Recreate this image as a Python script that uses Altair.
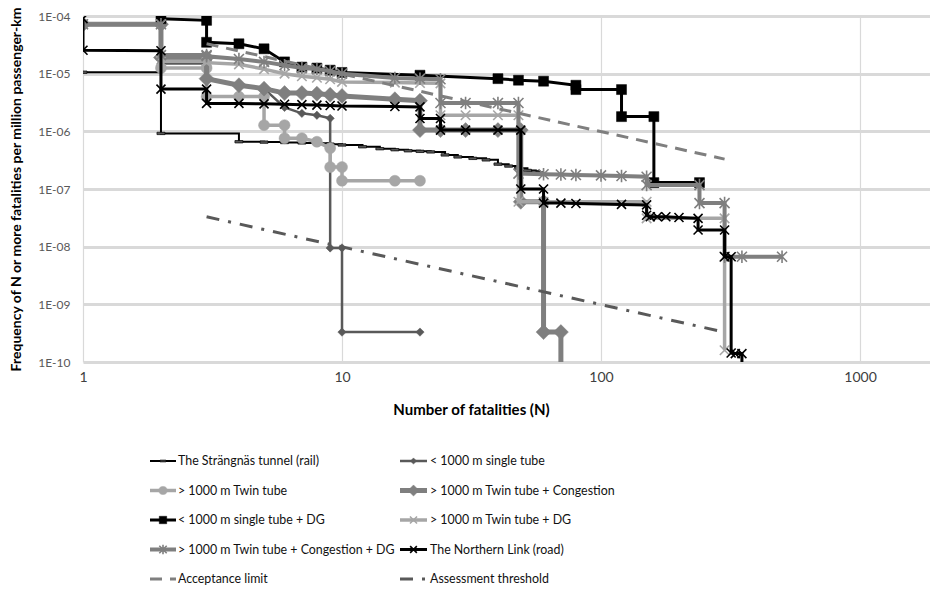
import altair as alt
import pandas as pd

# ------------------------------------------------------------------ data
series_names = [
    "The Strängnäs tunnel (rail)",
    "< 1000 m single tube",
    "> 1000 m Twin tube",
    "> 1000 m Twin tube + Congestion",
    "< 1000 m single tube + DG",
    "> 1000 m Twin tube + DG",
    "> 1000 m Twin tube + Congestion + DG",
    "The Northern Link (road)",
]
limit_names = ["Acceptance limit", "Assessment threshold"]

x_ticks = [1, 10, 100, 1000]
y_ticks = [1e-10, 1e-9, 1e-8, 1e-7, 1e-6, 1e-5, 1e-4]

strangnas_N = [1, 2, 4, 5, 6, 7, 8, 9, 10, 12, 14, 16, 18, 20, 22, 25, 28, 32, 36, 40, 44, 48, 52, 56, 58]
strangnas_F = [1.06e-5, 9.2e-7, 6.6e-7, 6.5e-7, 6.4e-7, 6.3e-7, 6.2e-7, 6.0e-7, 5.8e-7, 5.4e-7, 5.0e-7,
               4.8e-7, 4.6e-7, 4.5e-7, 4.4e-7, 3.9e-7, 3.6e-7, 3.4e-7, 3.2e-7, 2.7e-7, 2.5e-7, 2.3e-7,
               2.1e-7, 2.0e-7, 1.9e-7]

single_N = [1, 2, 2, 3, 3, 4, 5, 6, 7, 8, 9, 9, 10, 10, 20]
single_F = [7.2e-5, 7.2e-5, 1.5e-5, 1.5e-5, 8.2e-6, 6.3e-6, 5.5e-6, 2.6e-6, 2.05e-6, 1.9e-6, 1.68e-6,
            9.5e-9, 9.5e-9, 3.3e-10, 3.3e-10]

twin_N = [1, 2, 2, 3, 3, 4, 5, 5, 6, 6, 7, 8, 9, 9, 10, 10, 16, 20]
twin_F = [7.2e-5, 7.2e-5, 1.25e-5, 1.25e-5, 4.0e-6, 4.0e-6, 4.0e-6, 1.28e-6, 1.28e-6, 7.6e-7, 7.6e-7,
          6.6e-7, 5.1e-7, 2.4e-7, 2.4e-7, 1.39e-7, 1.39e-7, 1.39e-7]

twin_cong_N = [1, 2, 2, 3, 3, 4, 5, 6, 7, 8, 9, 10, 16, 20, 20, 24, 30, 40, 49, 49, 60, 60, 70, 70]
twin_cong_F = [7.2e-5, 7.2e-5, 1.9e-5, 1.9e-5, 8.2e-6, 6.3e-6, 5.5e-6, 4.6e-6, 4.6e-6, 4.5e-6, 4.3e-6,
               4.1e-6, 3.6e-6, 3.4e-6, 1.05e-6, 1.05e-6, 1.05e-6, 1.05e-6, 1.05e-6, 6.0e-8, 6.0e-8,
               3.3e-10, 3.3e-10, 1e-12]

single_dg_N = [2, 3, 3, 4, 5, 6, 7, 8, 9, 10, 20, 40, 48, 60, 80, 80, 120, 120, 160, 160, 240]
single_dg_F = [9.0e-5, 8.4e-5, 3.5e-5, 3.3e-5, 2.7e-5, 1.6e-5, 1.3e-5, 1.25e-5, 1.15e-5, 1.05e-5, 9.4e-6,
               8.2e-6, 7.7e-6, 7.4e-6, 6.3e-6, 5.3e-6, 5.3e-6, 1.8e-6, 1.8e-6, 1.29e-7, 1.29e-7]

twin_dg_N = [1, 2, 2, 3, 3, 4, 5, 6, 7, 8, 9, 10, 16, 20, 24, 24, 30, 40, 48, 48, 60, 150, 150, 300, 300]
twin_dg_F = [7.2e-5, 7.2e-5, 1.65e-5, 1.65e-5, 1.55e-5, 1.45e-5, 1.2e-5, 1.0e-5, 9.0e-6, 8.5e-6, 8.0e-6,
             7.2e-6, 7.0e-6, 6.9e-6, 6.8e-6, 1.9e-6, 1.9e-6, 1.9e-6, 1.9e-6, 6.0e-8, 6.0e-8, 6.0e-8,
             3.1e-8, 3.1e-8, 1.6e-10]

twin_cong_dg_N = [1, 2, 2, 3, 3, 4, 5, 6, 7, 8, 9, 10, 16, 20, 24, 24, 30, 40, 48, 48, 60, 70, 80, 100,
                  120, 150, 150, 240, 240, 300, 300, 350, 500]
twin_cong_dg_F = [7.2e-5, 7.2e-5, 2.1e-5, 2.1e-5, 2.0e-5, 1.8e-5, 1.6e-5, 1.4e-5, 1.25e-5, 1.2e-5, 1.1e-5,
                  1.0e-5, 8.4e-6, 8.2e-6, 8.0e-6, 3.1e-6, 3.1e-6, 3.1e-6, 3.1e-6, 1.85e-7, 1.8e-7, 1.78e-7,
                  1.75e-7, 1.72e-7, 1.68e-7, 1.63e-7, 1.17e-7, 1.17e-7, 5.7e-8, 5.7e-8, 6.7e-9, 6.7e-9,
                  6.7e-9]

northern_N = [1, 1, 2, 2, 3, 3, 4, 5, 6, 7, 8, 9, 10, 16, 20, 20, 24, 24, 30, 40, 49, 49, 60, 60, 70, 80,
              120, 150, 150, 155, 165, 178, 200, 237, 237, 300, 300, 318, 318, 330, 350, 350]
northern_F = [9.0e-5, 2.55e-5, 2.5e-5, 5.4e-6, 5.4e-6, 3.05e-6, 3.05e-6, 3.0e-6, 2.95e-6, 2.9e-6, 2.85e-6,
              2.8e-6, 2.75e-6, 2.7e-6, 2.65e-6, 1.67e-6, 1.67e-6, 1.05e-6, 1.05e-6, 1.05e-6, 1.05e-6,
              1.0e-7, 1.0e-7, 5.7e-8, 5.7e-8, 5.6e-8, 5.4e-8, 5.3e-8, 3.5e-8, 3.3e-8, 3.3e-8, 3.3e-8,
              3.2e-8, 3.1e-8, 1.95e-8, 1.95e-8, 6.7e-9, 6.7e-9, 1.43e-10, 1.4e-10, 1.4e-10, 1e-12]

accept_N = [3, 300]
accept_F = [3.3e-5, 3.3e-7]
assess_N = [3, 300]
assess_F = [3.3e-8, 3.3e-10]

series_N = [strangnas_N, single_N, twin_N, twin_cong_N, single_dg_N, twin_dg_N, twin_cong_dg_N, northern_N]
series_F = [strangnas_F, single_F, twin_F, twin_cong_F, single_dg_F, twin_dg_F, twin_cong_dg_F, northern_F]

# ------------------------------------------------------------------ styles
FONT = "Lato"
XMAX = 1863
W, H = 847, 346
BAR = "M-1,-0.3L1,-0.3L1,0.3L-1,0.3Z"
XSH = "M-1,-1L1,1M-1,1L1,-1"
STAR = "M-1,-1L1,1M-1,1L1,-1M0,-1.25L0,1.25"
BLACK, DGRAY, MGRAY, LGRAY = "#000000", "#595959", "#7F7F7F", "#A6A6A6"

styles = [
    dict(color=BLACK, lw=2.0, shape=BAR, size=64, filled=True, fill=DGRAY, ms=BLACK, msw=0.7, interp="step-after"),
    dict(color=DGRAY, lw=2.5, shape="diamond", size=70, filled=True, fill=DGRAY, ms=DGRAY, msw=0.5),
    dict(color=LGRAY, lw=3.5, shape="circle", size=121, filled=True, fill=LGRAY, ms=LGRAY, msw=0.5),
    dict(color=MGRAY, lw=5.0, shape="diamond", size=225, filled=True, fill=MGRAY, ms=MGRAY, msw=0.5),
    dict(color=BLACK, lw=3.0, shape="square", size=100, filled=True, fill=BLACK, ms=BLACK, msw=0.5),
    dict(color=LGRAY, lw=3.5, shape=XSH, size=90, filled=False, ms=LGRAY, msw=1.6),
    dict(color=MGRAY, lw=4.0, shape=STAR, size=100, filled=False, ms=MGRAY, msw=1.6),
    dict(color=BLACK, lw=3.0, shape=XSH, size=81, filled=False, ms=BLACK, msw=1.6),
]
limit_styles = [
    dict(color=MGRAY, lw=3.0, dash=[12, 8]),
    dict(color=DGRAY, lw=3.0, dash=[13, 9, 3, 9]),
]


def point_kwargs(st, scale=1.0):
    kw = dict(shape=st["shape"], size=st["size"] * scale, opacity=1, stroke=st["ms"], strokeWidth=st["msw"])
    if st["filled"]:
        kw.update(filled=True, fill=st["fill"])
    else:
        kw.update(filled=False)
    return kw


# ------------------------------------------------------------------ main plot
x_enc = alt.X(
    "N:Q",
    scale=alt.Scale(type="log", domain=[1, XMAX], nice=False),
    axis=alt.Axis(values=x_ticks, format="d", title="Number of fatalities (N)", titleFontSize=15,
                  titleFontWeight="bold", titleColor="#000000", titlePadding=18, titleX=388,
                  labelFontSize=14, labelColor="#404040", labelPadding=8, ticks=False, domain=False,
                  grid=True, gridColor="#D9D9D9", gridWidth=1.2, labelOverlap=False, labelFlush=False),
)
y_label_expr = ("'1E-' + (round(-log(datum.value)/LN10) < 10 ? '0' : '') + "
                "round(-log(datum.value)/LN10)")
y_enc = alt.Y(
    "F:Q",
    scale=alt.Scale(type="log", domain=[1e-10, 1e-4], nice=False),
    axis=alt.Axis(values=y_ticks, labelExpr=y_label_expr,
                  title="Frequency of N or more fatalities per million passenger-km", titleFontSize=14,
                  titleFontWeight="bold", titleColor="#000000", titlePadding=14, labelFontSize=12,
                  labelColor="#595959", labelPadding=13, ticks=False, domain=False, grid=True,
                  gridColor="#D9D9D9", gridWidth=3, labelOverlap=False),
)

main_layers = []
for name, Ns, Fs, st in zip(series_names, series_N, series_F, styles):
    df = pd.DataFrame({"series": name, "N": Ns, "F": Fs, "i": list(range(len(Ns)))})
    base = alt.Chart(df)
    line_kw = dict(color=st["color"], strokeWidth=st["lw"], clip=True)
    if "interp" in st:
        line_kw["interpolate"] = st["interp"]
    main_layers.append(base.mark_line(**line_kw).encode(x=x_enc, y=y_enc, order="i:Q"))
    main_layers.append(base.mark_point(clip=True, **point_kwargs(st)).encode(x=x_enc, y=y_enc))

for name, Ns, Fs, st in zip(limit_names, [accept_N, assess_N], [accept_F, assess_F], limit_styles):
    df = pd.DataFrame({"series": name, "N": Ns, "F": Fs, "i": list(range(len(Ns)))})
    main_layers.append(
        alt.Chart(df).mark_line(color=st["color"], strokeWidth=st["lw"], strokeDash=st["dash"], clip=True)
        .encode(x=x_enc, y=y_enc, order="i:Q")
    )

main = alt.layer(*main_layers)

# ------------------------------------------------------------------ legend (below the plot)
legend_labels = series_names + limit_names
legend_styles = styles + limit_styles
ROW0, ROWSTEP = 445, 29.5          # view coordinates of first row centre, row spacing
COL_SYM = [(67, 93), (317, 344)]   # symbol start/end per column
COL_TXT = [95, 347]

lx = alt.Scale(domain=[0, W], nice=False, zero=False)
ly = alt.Scale(domain=[0, H], nice=False, zero=False, reverse=True)

leg_rows = []
for k, lab in enumerate(legend_labels):
    r, c = k // 2, k % 2
    leg_rows.append(dict(label=lab, x0=COL_SYM[c][0], x1=COL_SYM[c][1],
                         xm=(COL_SYM[c][0] + COL_SYM[c][1]) / 2, xt=COL_TXT[c], y=ROW0 + r * ROWSTEP))
legend_df = pd.DataFrame(leg_rows)

leg_layers = []
for k, st in enumerate(legend_styles):
    row_df = legend_df.iloc[[k]]
    rule_kw = dict(color=st["color"], strokeWidth=st["lw"])
    if "dash" in st:
        rule_kw["strokeDash"] = st["dash"]
    leg_layers.append(
        alt.Chart(row_df).mark_rule(**rule_kw).encode(
            x=alt.X("x0:Q", scale=lx, axis=None), x2="x1:Q", y=alt.Y("y:Q", scale=ly, axis=None))
    )
    if "shape" in st:
        leg_layers.append(
            alt.Chart(row_df).mark_point(**point_kwargs(st, 0.55)).encode(
                x=alt.X("xm:Q", scale=lx, axis=None), y=alt.Y("y:Q", scale=ly, axis=None))
        )
leg_layers.append(
    alt.Chart(legend_df).mark_text(align="left", baseline="middle", font=FONT, fontSize=12.4,
                                   color="#111111").encode(
        x=alt.X("xt:Q", scale=lx, axis=None), y=alt.Y("y:Q", scale=ly, axis=None), text="label:N")
)
legend = alt.layer(*leg_layers)

chart = (
    alt.layer(main, legend)
    .resolve_scale(x="independent", y="independent")
    .properties(width=W, height=H, autosize=alt.AutoSizeParams(type="none"),
                padding={"left": 83, "top": 16, "right": 0, "bottom": 228}, background="white")
    .configure_view(stroke=None)
    .configure_axis(labelFont=FONT, titleFont=FONT)
)

chart.save("out.html", embed_options={"renderer": "svg", "actions": False})
